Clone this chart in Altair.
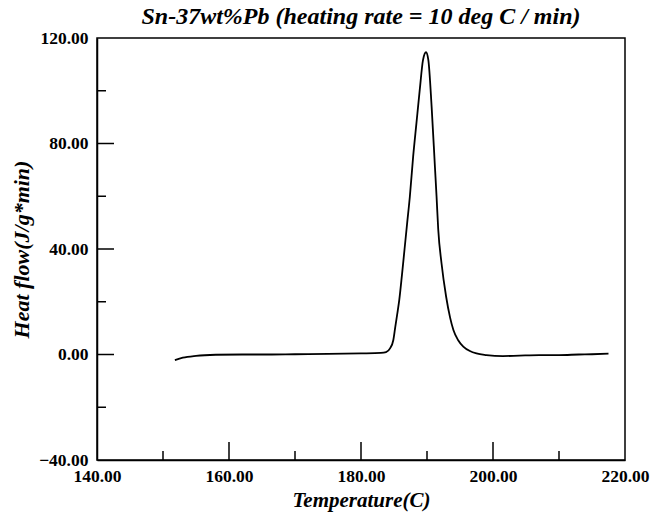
import altair as alt
import pandas as pd

# Temperature (C) and heat flow (J/g*min)
temperature = [151.8, 153.0, 155.0, 158.0, 162.0, 166.0, 170.0, 175.0, 180.0, 183.0,
               183.8, 184.4, 184.9, 185.2, 185.5, 185.8, 186.2, 186.6, 187.0, 187.4,
               187.9, 188.4, 188.9, 189.4, 189.85, 190.2, 190.7, 191.2, 191.45, 191.7,
               192.2, 192.9, 193.5, 194.0, 194.7, 195.5, 196.5, 197.5, 199.0, 201.5,
               204.0, 207.0, 210.0, 213.0, 215.0, 217.5]
heat_flow = [-2.1, -1.2, -0.5, -0.1, 0.0, 0.0, 0.1, 0.2, 0.4, 0.6,
             0.9, 2.3, 5.5, 10.6, 15.5, 20.7, 30.0, 40.0, 50.0, 59.8,
             75.0, 87.7, 100.3, 111.7, 114.6, 111.7, 94.0, 71.2, 59.8, 47.5,
             34.6, 21.9, 14.0, 9.3, 5.5, 3.0, 1.3, 0.4, -0.2, -0.6,
             -0.4, -0.2, -0.2, 0.0, 0.1, 0.3]

x_major_ticks = [160, 180, 200]
x_minor_ticks = [150, 170, 190, 210]
y_major_ticks = [0, 40, 80]
y_minor_ticks = [-20, 20, 60, 100]
x_labels = [140, 160, 180, 200, 220]
y_labels = [-40, 0, 40, 80, 120]

FONT = "Liberation Serif"

df = pd.DataFrame({"T": temperature, "H": heat_flow})

xscale = alt.Scale(domain=[140, 220], nice=False, zero=False)
yscale = alt.Scale(domain=[-40, 120], nice=False, zero=False)

line = alt.Chart(df).mark_line(color="black", strokeWidth=1.8, interpolate="monotone").encode(
    x=alt.X("T:Q", scale=xscale,
            axis=alt.Axis(title="Temperature(C)", values=x_labels, format=".2f", ticks=False,
                          grid=False, domainColor="black", domainWidth=1.5, labelFlush=False,
                          labelFont=FONT, labelFontSize=17.5, labelFontWeight="bold",
                          labelColor="black", labelPadding=7,
                          titleFont=FONT, titleFontSize=21, titleFontWeight="bold",
                          titleFontStyle="italic", titleColor="black", titlePadding=5)),
    y=alt.Y("H:Q", scale=yscale,
            axis=alt.Axis(title="Heat flow(J/g*min)", values=y_labels, format=".2f", ticks=False,
                          grid=False, domainColor="black", domainWidth=1.5, labelFlush=False,
                          labelFont=FONT, labelFontSize=17.5, labelFontWeight="bold",
                          labelColor="black", labelPadding=9,
                          titleFont=FONT, titleFontSize=22, titleFontWeight="bold",
                          titleFontStyle="italic", titleColor="black", titlePadding=5)),
)

def xticks(vals, length):
    return alt.Chart(pd.DataFrame({"t": vals})).mark_rule(
        color="black", strokeWidth=1.5, y2Offset=-length).encode(
        x=alt.X("t:Q", scale=xscale), y=alt.datum(-40), y2=alt.datum(-40))

def yticks(vals, length):
    return alt.Chart(pd.DataFrame({"t": vals})).mark_rule(
        color="black", strokeWidth=1.5, x2Offset=length).encode(
        y=alt.Y("t:Q", scale=yscale), x=alt.datum(140), x2=alt.datum(140))

chart = alt.layer(
    line,
    xticks(x_major_ticks, 18), xticks(x_minor_ticks, 9),
    yticks(y_major_ticks, 17), yticks(y_minor_ticks, 9),
).properties(
    width=528, height=422,
    padding={"left": 97, "top": 38, "right": 36, "bottom": 53},
    autosize="none",
    background="white",
    title=alt.TitleParams("Sn-37wt%Pb (heating rate = 10 deg C / min)", font=FONT, fontSize=24,
                          fontWeight="bold", fontStyle="italic", color="black",
                          anchor="middle", offset=0),
).configure_view(stroke="black", strokeWidth=1.5)

chart.save("out.html", embed_options={"renderer": "svg", "actions": False})
